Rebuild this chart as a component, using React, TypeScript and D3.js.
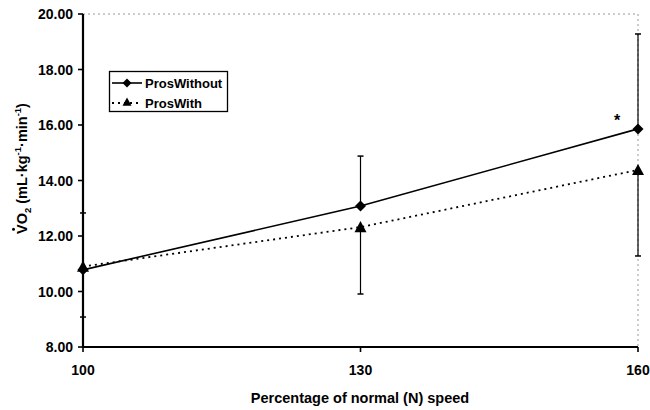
import React from "react";
import * as d3 from "d3";

const speeds = [100, 130, 160];
const prosWithout = [10.78, 13.08, 15.86];
const prosWithoutErrUp = [2.05, 1.8, 3.42];
const prosWith = [10.9, 12.32, 14.38];
const prosWithErrDown = [1.82, 2.41, 3.1];
const yTicks = [8, 10, 12, 14, 16, 18, 20];

export default function App() {
  const W = 650, H = 410;
  const x = d3.scaleLinear().domain([100, 160]).range([83, 638]);
  const y = d3.scaleLinear().domain([8, 20]).range([347, 14]);
  const line = d3.line<number>().x((_, i) => x(speeds[i])).y((d) => y(d));
  const font = "'Liberation Sans', Arial, sans-serif";
  const diamond = (cx: number, cy: number, r = 5.5) =>
    `M${cx},${cy - r}L${cx + r},${cy}L${cx},${cy + r}L${cx - r},${cy}Z`;
  const tri = (cx: number, cy: number, r = 6) =>
    `M${cx},${cy - r}L${cx + r},${cy + r * 0.85}L${cx - r},${cy + r * 0.85}Z`;
  return (
    <svg width={W} height={H} style={{ position: "absolute", left: 0, top: 0, background: "#fff" }} fontFamily={font}>
      {/* plot border top/right dotted */}
      <path d={`M${x(100)},${y(20)}H${x(160)}V${y(8)}`} fill="none" stroke="#999" strokeWidth={1} strokeDasharray="2,3" />
      {/* series lines */}
      <path d={line(prosWith) || ""} fill="none" stroke="#000" strokeWidth={1.8} strokeDasharray="2,4" />
      <path d={line(prosWithout) || ""} fill="none" stroke="#000" strokeWidth={1.6} />
      {/* error bars */}
      {speeds.map((s, i) => (
        <g key={"e" + i} stroke="#000" strokeWidth={1.2}>
          <line x1={x(s)} x2={x(s)} y1={y(prosWithout[i])} y2={y(prosWithout[i] + prosWithoutErrUp[i])} />
          <line x1={x(s) - 3} x2={x(s) + 3} y1={y(prosWithout[i] + prosWithoutErrUp[i])} y2={y(prosWithout[i] + prosWithoutErrUp[i])} strokeWidth={1.5} />
          <line x1={x(s)} x2={x(s)} y1={y(prosWith[i])} y2={y(prosWith[i] - prosWithErrDown[i])} />
          <line x1={x(s) - 3} x2={x(s) + 3} y1={y(prosWith[i] - prosWithErrDown[i])} y2={y(prosWith[i] - prosWithErrDown[i])} strokeWidth={1.5} />
        </g>
      ))}
      {/* markers */}
      {speeds.map((s, i) => (
        <path key={"t" + i} d={tri(x(s), y(prosWith[i]))} fill="#000" />
      ))}
      {speeds.map((s, i) => (
        <path key={"d" + i} d={diamond(x(s), y(prosWithout[i]))} fill="#000" />
      ))}
      {/* axes */}
      <line x1={x(100)} x2={x(100)} y1={y(20)} y2={y(8) + 1} stroke="#000" strokeWidth={2.2} />
      <line x1={x(100) - 1} x2={x(160)} y1={y(8)} y2={y(8)} stroke="#000" strokeWidth={2.2} />
      {yTicks.map((t) => (
        <g key={"y" + t}>
          <line x1={x(100) - 5} x2={x(100)} y1={y(t)} y2={y(t)} stroke="#000" strokeWidth={1.6} />
          <text x={73} y={y(t)} dy="0.36em" textAnchor="end" fontSize={14} fontWeight="bold">
            {t.toFixed(2)}
          </text>
        </g>
      ))}
      {speeds.map((s) => (
        <g key={"x" + s}>
          <line x1={x(s)} x2={x(s)} y1={y(8)} y2={y(8) + 5} stroke="#000" strokeWidth={1.6} />
          <text x={x(s)} y={375} textAnchor="middle" fontSize={14} fontWeight="bold">
            {s}
          </text>
        </g>
      ))}
      <text x={360} y={403} textAnchor="middle" fontSize={14.5} fontWeight="bold">
        Percentage of normal (N) speed
      </text>
      <g transform="translate(27,166) rotate(-90)">
        <text x={-68} textAnchor="start" fontSize={14.5} fontWeight="bold">
          {"VO"}
          <tspan fontSize={9.5} dy={4}>2</tspan>
          <tspan dy={-4}>{" (mL\u00b7kg"}</tspan>
          <tspan fontSize={9.5} dy={-6}>-1</tspan>
          <tspan dy={6}>{"\u00b7min"}</tspan>
          <tspan fontSize={9.5} dy={-6}>-1</tspan>
          <tspan dy={6}>)</tspan>
        </text>
        <circle cx={-63.2} cy={-13.5} r={1.5} fill="#000" />
      </g>
      {/* asterisk */}
      <text x={617} y={126} textAnchor="middle" fontSize={16} fontWeight="bold">*</text>
      {/* legend */}
      <rect x={109.5} y={71.5} width={118} height={40} fill="#fff" stroke="#000" strokeWidth={1.3} />
      <line x1={112} x2={142} y1={83} y2={83} stroke="#000" strokeWidth={1.6} />
      <path d={diamond(127, 83, 4.5)} fill="#000" />
      <text x={145} y={83} dy="0.36em" fontSize={13} fontWeight="bold">ProsWithout</text>
      <line x1={112} x2={142} y1={103} y2={103} stroke="#000" strokeWidth={1.8} strokeDasharray="2,4" />
      <path d={tri(127, 102, 4.5)} fill="#000" />
      <text x={145} y={103} dy="0.36em" fontSize={13} fontWeight="bold">ProsWith</text>
    </svg>
  );
}
